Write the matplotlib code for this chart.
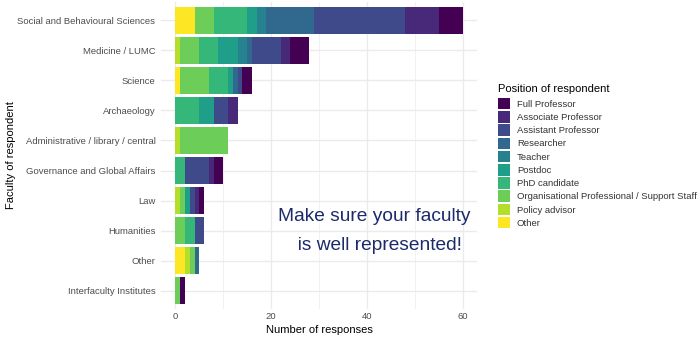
import numpy as np
import matplotlib
matplotlib.use("Agg")
import matplotlib.pyplot as plt
from matplotlib.patches import Patch

plt.rcParams["font.family"] = ["Liberation Sans", "DejaVu Sans"]

faculties = [
    "Social and Behavioural Sciences",
    "Medicine / LUMC",
    "Science",
    "Archaeology",
    "Administrative / library / central",
    "Governance and Global Affairs",
    "Law",
    "Humanities",
    "Other",
    "Interfaculty Institutes",
]

# counts per position, one value per faculty (same order as above)
other = [4, 0, 1, 0, 0, 0, 0, 0, 2, 0]
policy = [0, 1, 0, 0, 1, 0, 1, 0, 1, 0]
org = [4, 4, 6, 0, 10, 0, 1, 2, 1, 1]
phd = [7, 4, 4, 5, 0, 2, 0, 2, 0, 0]
postdoc = [2, 4, 1, 3, 0, 0, 1, 0, 0, 0]
teacher = [2, 2, 0, 0, 0, 0, 0, 0, 0, 0]
researcher = [10, 1, 1, 0, 0, 0, 0, 0, 1, 0]
assistant = [19, 6, 1, 3, 0, 5, 1, 2, 0, 0]
associate = [7, 2, 0, 2, 0, 1, 1, 0, 0, 0]
full = [5, 4, 2, 0, 0, 2, 1, 0, 0, 1]

positions = [
    "Other",
    "Policy advisor",
    "Organisational Professional / Support Staff",
    "PhD candidate",
    "Postdoc",
    "Teacher",
    "Researcher",
    "Assistant Professor",
    "Associate Professor",
    "Full Professor",
]
series = [other, policy, org, phd, postdoc, teacher, researcher, assistant, associate, full]
colors = ["#FDE725", "#B4DE2C", "#6DCD59", "#35B779", "#1F9E89",
          "#26828E", "#31688E", "#3E4A89", "#482878", "#440154"]

fig = plt.figure(figsize=(7, 3.4), dpi=100)
ax = fig.add_axes([161 / 700, 1 - 309 / 340, 316 / 700, 307 / 340])

y = np.arange(len(faculties))
left = np.zeros(len(faculties))
for vals, col in zip(series, colors):
    vals = np.array(vals, dtype=float)
    ax.barh(y, vals, left=left, height=0.9, color=col, linewidth=0, zorder=2)
    left += vals

ax.set_xlim(-3, 63)
ax.set_ylim(len(faculties) - 0.4, -0.6)
ax.set_xticks([0, 20, 40, 60])
ax.set_xticks([10, 30, 50], minor=True)
ax.set_yticks(y)
ax.set_yticklabels(faculties)
ax.grid(True, which="major", color="#EBEBEB", linewidth=1.0, zorder=0)
ax.grid(True, which="minor", axis="x", color="#EBEBEB", linewidth=0.5, zorder=0)
ax.set_axisbelow(True)
for s in ax.spines.values():
    s.set_visible(False)
ax.tick_params(which="both", length=0, labelsize=6.8, labelcolor="#4D4D4D")
ax.tick_params(axis="x", pad=2)
ax.tick_params(axis="y", pad=4)

ax.set_xlabel("Number of responses", fontsize=8, labelpad=3)
ax.set_ylabel("Faculty of respondent", fontsize=8, labelpad=1)

fig.text(374 / 700, 1 - 231 / 340, "Make sure your faculty\n  is well represented!",
         ha="center", va="center", fontsize=13.8, color="#1C2A6B", linespacing=1.85)

handles = [Patch(facecolor=c, edgecolor="none") for c in colors[::-1]]
leg = fig.legend(handles, positions[::-1], loc="upper left",
                 bbox_to_anchor=(494 / 700, 1 - 80 / 340), frameon=False,
                 title="Position of respondent", fontsize=6.8, title_fontsize=8,
                 handlelength=1.27, handleheight=1.5, labelspacing=0.18,
                 handletextpad=0.75, borderaxespad=0)
leg._legend_box.align = "left"
leg._legend_box.sep = 3
for t in leg.get_texts():
    t.set_color("#333333")

fig.savefig("out.png", dpi=100)
